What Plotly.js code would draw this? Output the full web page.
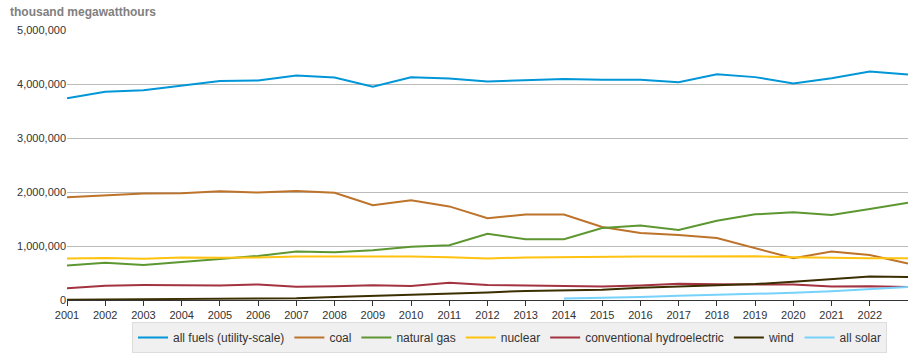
<!DOCTYPE html>
<html>
<head>
<meta charset="utf-8">
<script src="https://cdn.plot.ly/plotly-3.0.1.min.js"></script>
<style>html,body{margin:0;padding:0;background:#fff;}#chart{width:920px;height:356px;}</style>
</head>
<body>
<div id="chart"></div>
<script>
const years = [2001,2002,2003,2004,2005,2006,2007,2008,2009,2010,2011,2012,2013,2014,2015,2016,2017,2018,2019,2020,2021,2022,2023];
const tickYears = [2001,2002,2003,2004,2005,2006,2007,2008,2009,2010,2011,2012,2013,2014,2015,2016,2017,2018,2019,2020,2021,2022];
const allFuels = [3736644,3858452,3883185,3970555,4055423,4064702,4156745,4119388,3950331,4125060,4100141,4047765,4065964,4093564,4077601,4076675,4034271,4178277,4127322,4009963,4108294,4230672,4178171];
const coal = [1903956,1933130,1973737,1978301,2012873,1990511,2016456,1985801,1755904,1847290,1733430,1514043,1581115,1581710,1352398,1239149,1205835,1149487,964957,773393,897999,831512,675115];
const naturalGas = [639129,691006,649908,710100,760960,816441,896590,882981,920979,987697,1013689,1225894,1124836,1126609,1333482,1378307,1296442,1469133,1585813,1624157,1575259,1687067,1802061];
const nuclear = [768826,780064,763733,788528,781986,787219,806425,806208,798855,806968,790204,769331,789016,797166,797178,805694,804950,807084,809409,789879,778152,771537,775000];
const hydro = [216961,264329,275806,268417,270321,289246,247510,254831,273445,260203,319355,276240,268565,259367,249080,267812,300333,292524,287874,285274,251585,254824,240000];
const wind = [6737,10354,11187,14144,17811,26589,34450,55363,73886,94652,120177,140822,167840,181655,190719,226993,254303,272667,294906,337938,379767,434297,425000];
const solarYears = [2014,2015,2016,2017,2018,2019,2020,2021,2022,2023];
const solar = [28924,39032,54866,77323,93365,106978,132413,164283,204800,240000];

const names = ["all fuels (utility-scale)","coal","natural gas","nuclear","conventional hydroelectric","wind","all solar"];
const colors = ["#0096d7","#bd732a","#5d9732","#ffc20e","#a33340","#3b2e00","#76d2fb"];
const series = [allFuels,coal,naturalGas,nuclear,hydro,wind,solar];

const traces = series.map((s,i)=>({
  x: i===6 ? solarYears : years,
  y: s,
  name: names[i],
  type: 'scatter',
  mode: 'lines',
  line: {color: colors[i], width: 2}
}));

const layout = {
  width: 920, height: 356,
  margin: {l: 67, r: 12, t: 30, b: 56, autoexpand: false},
  paper_bgcolor: '#fff', plot_bgcolor: '#fff',
  font: {family: 'Liberation Sans, Arial, sans-serif', size: 11, color: '#333'},
  title: {text: '<b>thousand megawatthours</b>', font: {size: 12, color: '#808080', family: 'Liberation Sans, Arial, sans-serif'},
          x: 10/920, xref: 'container', xanchor: 'left', y: 1 - 12/356, yref: 'container', yanchor: 'middle'},
  xaxis: {range: [2001, 2023], tickvals: tickYears, ticktext: tickYears.map(String), showgrid: false,
          showline: true, linecolor: '#333', linewidth: 1, ticks: 'outside', ticklen: 5, tickcolor: '#333',
          zeroline: false, tickfont: {size: 11, color: '#333'}, fixedrange: true, automargin: false},
  yaxis: {range: [0, 5000000], tickvals: [0,1000000,2000000,3000000,4000000,5000000], tickformat: ',',
          showgrid: true, gridcolor: '#bbb', gridwidth: 1, zeroline: false, showline: false, ticks: '',
          tickfont: {size: 11, color: '#333'}, fixedrange: true, automargin: false},
  showlegend: true,
  legend: {orientation: 'h', xref: 'container', yref: 'container', x: 132/920, xanchor: 'left', y: 1 - 322/356, yanchor: 'top',
           bgcolor: '#f0f0f0', bordercolor: '#ddd', borderwidth: 1,
           font: {size: 12, color: '#333'}, itemwidth: 30, traceorder: 'normal'}
};

Plotly.newPlot('chart', traces, layout, {displayModeBar: false, staticPlot: true});
</script>
</body>
</html>
